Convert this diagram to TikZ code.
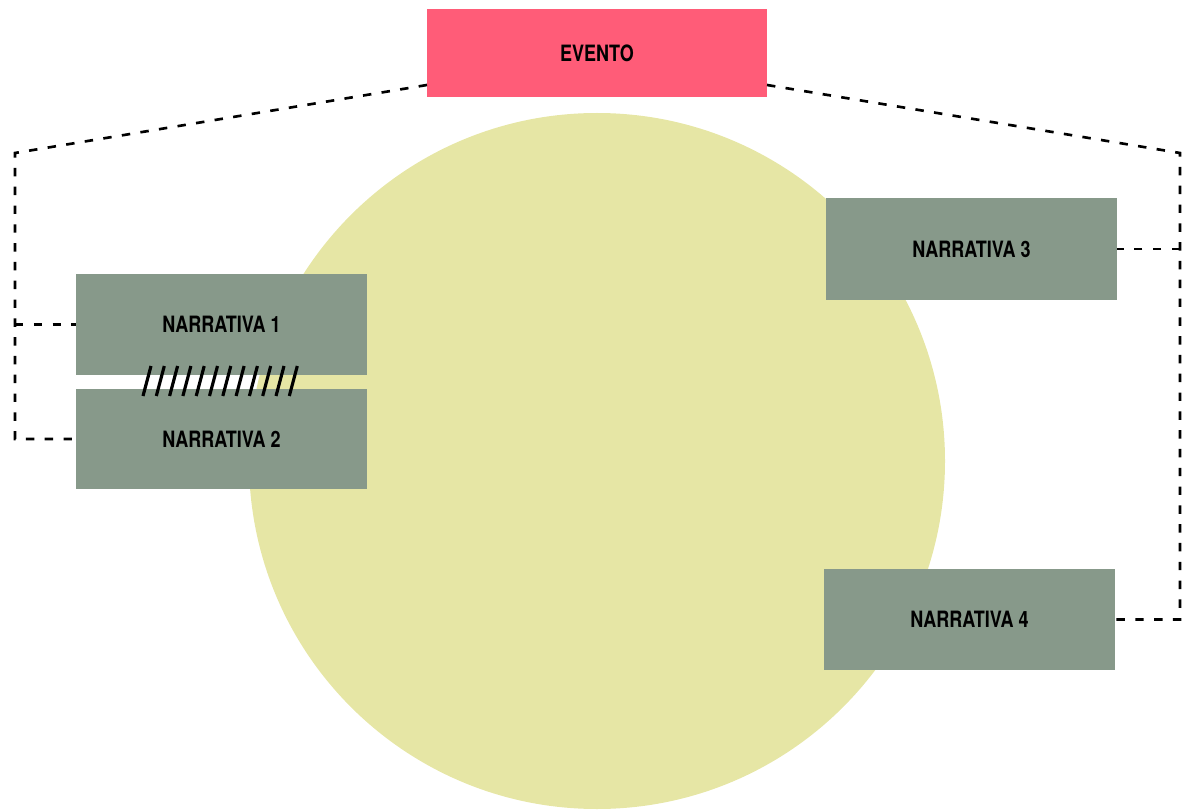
\documentclass[tikz,border=0pt]{standalone}
\usepackage{fontspec}
\newfontfamily\narrfont[FakeStretch=0.8]{TeX Gyre Heros}
\definecolor{eventored}{HTML}{FF5C78}
\definecolor{narrgreen}{HTML}{87998A}
\definecolor{circleyellow}{HTML}{E6E6A5}
\tikzset{
  narrbox/.style={fill=narrgreen,minimum width=5.82cm,minimum height=2.02cm,inner sep=0pt,
    font=\narrfont\bfseries\fontsize{12.8}{15}\selectfont},
  link/.style={dash pattern=on 4.8pt off 5.9pt,line width=1.5pt}
}

\begin{document}
\begin{tikzpicture}
      \useasboundingbox (0,0) rectangle (23.64,-16.2);
      \fill[circleyellow] (11.94,-9.22) circle (6.96);
      \node[narrbox,fill=eventored,minimum width=6.8cm,minimum height=1.76cm] (evento) at (11.94,-1.06) {EVENTO};
      \node[narrbox] (narr1) at (4.43,-6.49) {NARRATIVA 1};
      \node[narrbox,minimum height=2cm] (narr2) at (4.43,-8.78) {NARRATIVA 2};
      \node[narrbox] (narr3) at (19.43,-4.98) {NARRATIVA 3};
      \node[narrbox] (narr4) at (19.39,-12.39) {NARRATIVA 4};
      % left side
      \coordinate (evL) at (8.54,-1.7);
      \coordinate (cornerTL) at (0.3,-3.06);
      \coordinate (cornerBL) at (0.3,-8.78);
      \draw[link] (evL) -- (cornerTL) -- (cornerBL) -- (narr2.west);
      \draw[link] (cornerTL |- narr1.west) -- (narr1.west);
      % right side
      \coordinate (evR) at (15.34,-1.7);
      \coordinate (cornerTR) at (23.6,-3.06);
      \coordinate (cornerBR) at (23.6,-12.39);
      \draw[link] (evR) -- (cornerTR) -- (cornerBR) -- (narr4.east);
      \draw[link] (cornerTR |- narr3.east) -- (narr3.east);
      % hatch between 1 and 2
      \foreach \i in {0,...,11}
        \draw[line width=1.8pt] (2.86+\i*0.266,-7.92) -- ++(0.16,0.6);
    \end{tikzpicture}
\end{document}
